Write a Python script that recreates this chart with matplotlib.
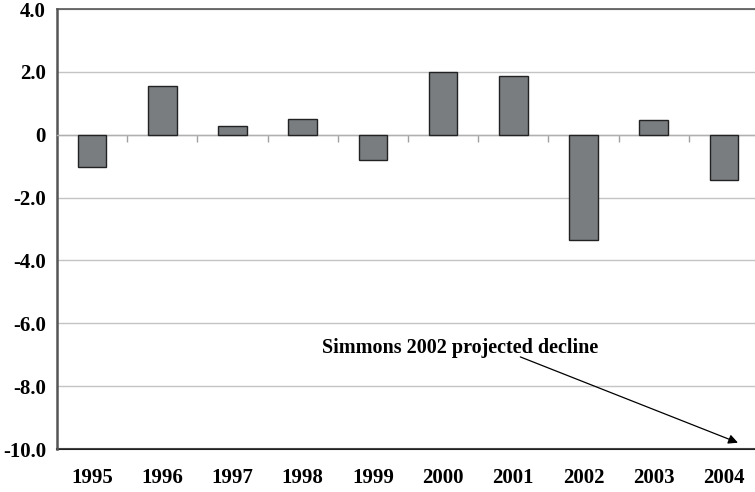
import matplotlib
matplotlib.use("Agg")
import matplotlib.pyplot as plt
import numpy as np

years = ["1995", "1996", "1997", "1998", "1999", "2000", "2001", "2002", "2003", "2004"]
values = [-1.02, 1.56, 0.28, 0.50, -0.80, 2.00, 1.88, -3.34, 0.46, -1.44]
yticks = [4.0, 2.0, 0, -2.0, -4.0, -6.0, -8.0, -10.0]
ytick_labels = ["4.0", "2.0", "0", "-2.0", "-4.0", "-6.0", "-8.0", "-10.0"]
annot_text = "Simmons 2002 projected decline"

plt.rcParams['font.family'] = ['Liberation Serif', 'DejaVu Serif']

fig = plt.figure(figsize=(7.55, 4.92), dpi=100)
ax = fig.add_axes([57/755, 1 - 449/492, 702/755, 440/492])

x = np.arange(len(years))
ax.bar(x, values, width=0.41, color="#7a7d80", edgecolor="#222222", linewidth=1.0, zorder=3)

ax.set_xlim(-0.5, len(years) - 0.5)
ax.set_ylim(-10, 4)

# gridlines
ax.set_yticks(yticks)
ax.set_yticklabels(ytick_labels, fontsize=15, fontweight="bold")
ax.yaxis.grid(True, color="#c4c4c4", linewidth=1.0, zorder=0)
ax.tick_params(axis="y", length=0, pad=8)

# zero-line axis with category separator ticks
ax.spines["bottom"].set_position(("data", 0))
ax.spines["bottom"].set_color("#b0b0b0")
ax.spines["bottom"].set_linewidth(1.0)
ax.set_xticks(x)
ax.set_xticklabels([])
ax.tick_params(axis="x", which="major", length=0)
ax.set_xticks(x[:-1] + 0.5, minor=True)
ax.tick_params(axis="x", which="minor", length=5, direction="out", color="#a0a0a0", width=1.0)

ax.spines["right"].set_visible(False)
ax.spines["left"].set_color("#555555")
ax.spines["left"].set_linewidth(1.8)
ax.spines["top"].set_color("#555555")
ax.spines["top"].set_linewidth(1.2)

# bottom axis with year labels
sec = ax.secondary_xaxis("bottom")
sec.set_xticks(x)
sec.set_xticklabels(years, fontsize=15, fontweight="bold")
sec.tick_params(length=0, pad=14)
sec.spines["bottom"].set_color("#222222")
sec.spines["bottom"].set_linewidth(1.5)

ax.annotate("", xy=(9.2, -9.8), xytext=(6.1, -7.07),
            arrowprops=dict(arrowstyle="-|>", color="black", lw=0.9,
                            mutation_scale=14, shrinkA=0, shrinkB=0))
ax.text(3.27, -6.78, annot_text, fontsize=14.5, fontweight="bold", ha="left", va="center")

fig.savefig("out.png", dpi=100)
